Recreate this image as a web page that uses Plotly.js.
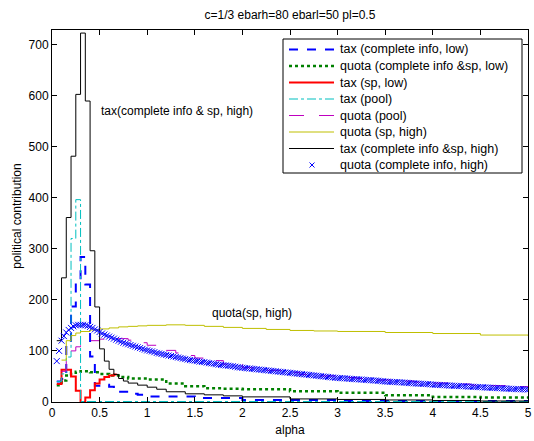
<!DOCTYPE html>
<html>
<head>
<meta charset="utf-8">
<script src="https://cdn.plot.ly/plotly-3.0.1.min.js"></script>
<style>
  html, body { margin: 0; padding: 0; background: #fff; }
  #chart { width: 534px; height: 441px; }
</style>
</head>
<body>
<div id="chart"></div>
<script>
// tax (complete info, low) — stair steps
const taxCiLowX = [0.05, 0.10, 0.15, 0.20, 0.25, 0.30, 0.35, 0.40, 0.45, 0.50, 0.55, 0.60, 0.65, 0.70, 0.80, 0.90, 1.00, 1.50, 2.00, 3.00, 4.00, 5.00];
const taxCiLowY = [40, 45, 120, 187, 236, 284, 230, 89, 32, 32, 34, 30, 26, 20, 16, 14, 11, 8, 4, 2, 2, 2];

// quota (complete info &sp, low)
const quotaCiSpLowX = [0.05, 0.10, 0.15, 0.20, 0.25, 0.30, 0.40, 0.50, 0.60, 0.70, 0.80, 1.00, 1.20, 1.40, 1.60, 1.80, 2.00, 2.50, 3.00, 3.50, 4.00, 4.50, 5.00];
const quotaCiSpLowY = [33, 42, 52, 57, 59, 60, 58, 55, 52, 49, 46, 44, 36, 31, 27, 26, 25, 21, 18, 13, 10, 9, 8];

// tax (sp, low)
const taxSpLowX = [0.05, 0.10, 0.15, 0.20, 0.25, 0.30, 0.35, 0.40, 0.45, 0.50, 0.55, 0.60, 0.65, 0.68];
const taxSpLowY = [35, 63, 63, 50, 22, 0, 9, 23, 36, 44, 49, 52, 54, 54];

// tax (pool)
const taxPoolX = [0.05, 0.10, 0.15, 0.20, 0.25, 0.30, 0.50, 1.00, 2.00, 3.00, 4.00, 5.00];
const taxPoolY = [40, 55, 88, 320, 396, 1, 1, 1, 1, 1, 1, 1];

// quota (pool)
const quotaPoolX = [0.10, 0.15, 0.20, 0.25, 0.30, 0.35, 0.40, 0.50, 0.60, 0.70, 0.80, 0.90, 1.00, 1.10, 1.20, 1.30, 1.40, 1.50, 1.60, 1.80, 2.00, 2.20, 2.40, 2.60, 2.80, 3.00, 3.20, 3.40, 3.60, 3.80, 4.00, 4.20, 4.40, 4.60, 4.80, 5.00];
const quotaPoolY = [60, 85, 100, 108, 113, 117, 120, 123, 125, 124, 121, 116, 111, 106, 101, 96, 91, 86, 81, 74, 67, 62, 58, 54, 51, 48, 46, 43, 41, 39, 37, 35, 33, 32, 30, 29];

// quota (sp, high)
const quotaSpHighX = [0.10, 0.15, 0.20, 0.25, 0.30, 0.40, 0.50, 0.60, 0.70, 0.80, 0.90, 1.00, 1.20, 1.40, 1.60, 1.80, 2.00, 2.25, 2.50, 2.75, 3.00, 3.50, 4.00, 4.50, 5.00];
const quotaSpHighY = [82, 120, 130, 135, 138, 141, 143, 145, 147, 148, 149, 150, 151, 150, 148, 146, 144, 142, 140, 139, 138, 136, 134, 131, 130];

// tax (complete info &sp, high)
const taxCiSpHighX = [0.05, 0.10, 0.15, 0.20, 0.25, 0.30, 0.35, 0.40, 0.45, 0.50, 0.55, 0.60, 0.65, 0.70, 0.75, 0.80, 0.90, 1.00, 1.10, 1.20, 1.40, 1.60, 1.80, 2.00, 2.50, 3.00, 3.50, 4.00, 4.50, 5.00];
const taxCiSpHighY = [120, 243, 361, 481, 602, 722, 589, 296, 186, 104, 80, 64, 54, 46, 41, 37, 33, 29, 25, 20, 16, 14, 12, 10, 6, 5, 4, 3, 2, 2];

// quota (complete info, high) — markers every 0.025
const quotaCiHighX = [
  0.050, 0.075, 0.100, 0.125, 0.150, 0.175, 0.200, 0.225, 0.250, 0.275,
  0.300, 0.325, 0.350, 0.375, 0.400, 0.425, 0.450, 0.475, 0.500, 0.525,
  0.550, 0.575, 0.600, 0.625, 0.650, 0.675, 0.700, 0.725, 0.750, 0.775,
  0.800, 0.825, 0.850, 0.875, 0.900, 0.925, 0.950, 0.975, 1.000, 1.025,
  1.050, 1.075, 1.100, 1.125, 1.150, 1.175, 1.200, 1.225, 1.250, 1.275,
  1.300, 1.325, 1.350, 1.375, 1.400, 1.425, 1.450, 1.475, 1.500, 1.525,
  1.550, 1.575, 1.600, 1.625, 1.650, 1.675, 1.700, 1.725, 1.750, 1.775,
  1.800, 1.825, 1.850, 1.875, 1.900, 1.925, 1.950, 1.975, 2.000, 2.025,
  2.050, 2.075, 2.100, 2.125, 2.150, 2.175, 2.200, 2.225, 2.250, 2.275,
  2.300, 2.325, 2.350, 2.375, 2.400, 2.425, 2.450, 2.475, 2.500, 2.525,
  2.550, 2.575, 2.600, 2.625, 2.650, 2.675, 2.700, 2.725, 2.750, 2.775,
  2.800, 2.825, 2.850, 2.875, 2.900, 2.925, 2.950, 2.975, 3.000, 3.025,
  3.050, 3.075, 3.100, 3.125, 3.150, 3.175, 3.200, 3.225, 3.250, 3.275,
  3.300, 3.325, 3.350, 3.375, 3.400, 3.425, 3.450, 3.475, 3.500, 3.525,
  3.550, 3.575, 3.600, 3.625, 3.650, 3.675, 3.700, 3.725, 3.750, 3.775,
  3.800, 3.825, 3.850, 3.875, 3.900, 3.925, 3.950, 3.975, 4.000, 4.025,
  4.050, 4.075, 4.100, 4.125, 4.150, 4.175, 4.200, 4.225, 4.250, 4.275,
  4.300, 4.325, 4.350, 4.375, 4.400, 4.425, 4.450, 4.475, 4.500, 4.525,
  4.550, 4.575, 4.600, 4.625, 4.650, 4.675, 4.700, 4.725, 4.750, 4.775,
  4.800, 4.825, 4.850, 4.875, 4.900, 4.925, 4.950, 4.975, 5.000];
const quotaCiHighY = [
  80, 100, 120, 129, 136, 141, 145, 148, 150, 151,
  151, 151, 150, 149, 147, 145, 142, 140, 137, 134,
  132, 130, 128, 126, 124, 122, 120, 118, 116, 114.5,
  113, 111.5, 110, 108.5, 107, 105.5, 104, 102.5, 101, 100,
  99, 97.5, 96, 95, 94, 93, 92, 91, 90, 89,
  88, 87, 86, 85, 84, 83, 82, 81.5, 81, 80,
  79, 78.5, 78, 77, 76, 75.5, 75, 74, 73, 72.5,
  72, 71.5, 71, 70.5, 70, 69, 68, 67.5, 67, 66.5,
  66, 65.5, 65, 64.5, 64, 63.5, 63, 62.5, 62, 61.5,
  61, 60.5, 60, 59.5, 59, 58.5, 58, 57.5, 57, 56.5,
  56, 55.5, 55, 54.5, 54, 53.5, 53, 52.5, 52, 51.5,
  51, 50.5, 50, 49.5, 49, 48.5, 48, 47.5, 47, 46.8,
  46.5, 46.2, 46, 45.5, 45, 44.8, 44.5, 44.2, 44, 43.5,
  43, 42.8, 42.5, 42.2, 42, 41.5, 41, 40.5, 40, 39.8,
  39.5, 39.2, 39, 38.8, 38.5, 38.2, 38, 37.5, 37, 36.8,
  36.5, 36.2, 36, 35.8, 35.5, 35.2, 35, 34.5, 34, 33.8,
  33.5, 33.2, 33, 32.8, 32.5, 32.2, 32, 31.8, 31.5, 31.2,
  31, 30.8, 30.5, 30.2, 30, 29.8, 29.5, 29.2, 29, 28.8,
  28.5, 28.2, 28, 27.8, 27.5, 27.2, 27, 26.8, 26.5, 26.2,
  26, 25.8, 25.5, 25.2, 25, 25, 25, 24.8, 24.5];

const seriesNames = [
  'tax (complete info, low)',
  'quota (complete info &sp, low)',
  'tax (sp, low)',
  'tax (pool)',
  'quota (pool)',
  'quota (sp, high)',
  'tax (complete info &sp, high)',
  'quota (complete info, high)'
];

const xTicks = [0, 0.5, 1, 1.5, 2, 2.5, 3, 3.5, 4, 4.5, 5];
const xTickText = ['0', '0.5', '1', '1.5', '2', '2.5', '3', '3.5', '4', '4.5', '5'];
const yTicks = [0, 100, 200, 300, 400, 500, 600, 700];

const FONT = 'Liberation Sans, Arial, sans-serif';

// line styles, in legend order
const styles = [
  { color: 'rgb(0,0,255)', width: 2, dash: 'dash' },
  { color: 'rgb(0,128,0)', width: 2.5, dash: 'dot' },
  { color: 'rgb(255,0,0)', width: 2, dash: 'solid' },
  { color: 'rgb(0,191,191)', width: 1, dash: 'dashdot' },
  { color: 'rgb(191,0,191)', width: 1, dash: 'longdash' },
  { color: 'rgb(191,191,0)', width: 1, dash: 'solid' },
  { color: 'rgb(0,0,0)', width: 1, dash: 'solid' }
];
const markerStyle = { symbol: 'x-thin', size: 6, color: 'rgb(0,0,255)', line: { color: 'rgb(0,0,255)', width: 1 } };

const stairData = [
  [taxCiLowX, taxCiLowY],
  [quotaCiSpLowX, quotaCiSpLowY],
  [taxSpLowX, taxSpLowY],
  [taxPoolX, taxPoolY],
  [quotaPoolX, quotaPoolY],
  [quotaSpHighX, quotaSpHighY],
  [taxCiSpHighX, taxCiSpHighY]
];

const traces = stairData.map((d, i) => ({
  type: 'scatter', mode: 'lines', name: seriesNames[i], x: d[0], y: d[1],
  line: { color: styles[i].color, width: styles[i].width, dash: styles[i].dash, shape: 'hv' },
  showlegend: false
}));
traces.push({
  type: 'scatter', mode: 'markers', name: seriesNames[7],
  x: quotaCiHighX, y: quotaCiHighY, showlegend: false, marker: markerStyle
});

// plot-area geometry in pixels, used to place the boxed legend
const W = 534, H = 441, ML = 52, MR = 6, MT = 30, MB = 39;
const plotW = W - ML - MR, plotH = H - MT - MB;
const px = v => (v - ML) / plotW;
const py = v => (H - MB - v) / plotH;

const shapes = [{
  type: 'rect', xref: 'paper', yref: 'paper',
  x0: px(283), x1: px(522), y0: py(173), y1: py(39),
  fillcolor: '#ffffff', line: { color: '#000000', width: 1 }, layer: 'below'
}];
const annotations = [
  { x: 0.49, y: 569, xref: 'x', yref: 'y', text: 'tax(complete info & sp, high)', showarrow: false, xanchor: 'left', yanchor: 'middle', font: { size: 12 } },
  { x: 1.66, y: 175, xref: 'x', yref: 'y', text: 'quota(sp, high)', showarrow: false, xanchor: 'left', yanchor: 'middle', font: { size: 12 } }
];

// legend key samples live on an overlay axis pair spanning the plot area 0..1
seriesNames.forEach((name, i) => {
  const yc = 49.5 + i * 16.5;
  if (i < styles.length) {
    traces.push({
      type: 'scatter', mode: 'lines', xaxis: 'x2', yaxis: 'y2', showlegend: false, hoverinfo: 'skip',
      x: [px(289), px(334)], y: [py(yc), py(yc)],
      line: { color: styles[i].color, width: styles[i].width, dash: styles[i].dash }
    });
  } else {
    traces.push({
      type: 'scatter', mode: 'markers', xaxis: 'x2', yaxis: 'y2', showlegend: false, hoverinfo: 'skip',
      x: [px(312)], y: [py(yc)], marker: Object.assign({}, markerStyle, { size: 5 })
    });
  }
  annotations.push({
    x: px(338), y: py(yc), xref: 'paper', yref: 'paper', text: name, showarrow: false,
    xanchor: 'left', yanchor: 'middle', font: { size: 12.5, color: '#000' }
  });
});

const layout = {
  width: W, height: H,
  margin: { l: ML, r: MR, t: MT, b: MB },
  paper_bgcolor: '#ffffff', plot_bgcolor: '#ffffff',
  font: { family: FONT, size: 11, color: '#000' },
  title: { text: 'c=1/3 ebarh=80 ebarl=50 pl=0.5', x: 0.543, xanchor: 'center', y: 0.975, yanchor: 'top', font: { size: 12 } },
  showlegend: false,
  xaxis: {
    range: [0, 5], tickvals: xTicks, ticktext: xTickText,
    ticks: 'inside', ticklen: 5, tickcolor: '#000', mirror: 'ticks',
    showline: true, linecolor: '#000', linewidth: 1, showgrid: false, zeroline: false,
    tickfont: { size: 12 },
    title: { text: 'alpha', font: { size: 12 }, standoff: 6 }
  },
  yaxis: {
    range: [0, 728], tickvals: yTicks,
    ticks: 'inside', ticklen: 5, tickcolor: '#000', mirror: 'ticks',
    showline: true, linecolor: '#000', linewidth: 1, showgrid: false, zeroline: false,
    tickfont: { size: 12 },
    title: { text: 'political contribution', font: { size: 12 }, standoff: 4 }
  },
  xaxis2: { overlaying: 'x', anchor: 'y2', range: [0, 1], visible: false, fixedrange: true },
  yaxis2: { overlaying: 'y', anchor: 'x2', range: [0, 1], visible: false, fixedrange: true },
  shapes: shapes,
  annotations: annotations
};

Plotly.newPlot('chart', traces, layout, { displayModeBar: false, staticPlot: true });
</script>
</body>
</html>
